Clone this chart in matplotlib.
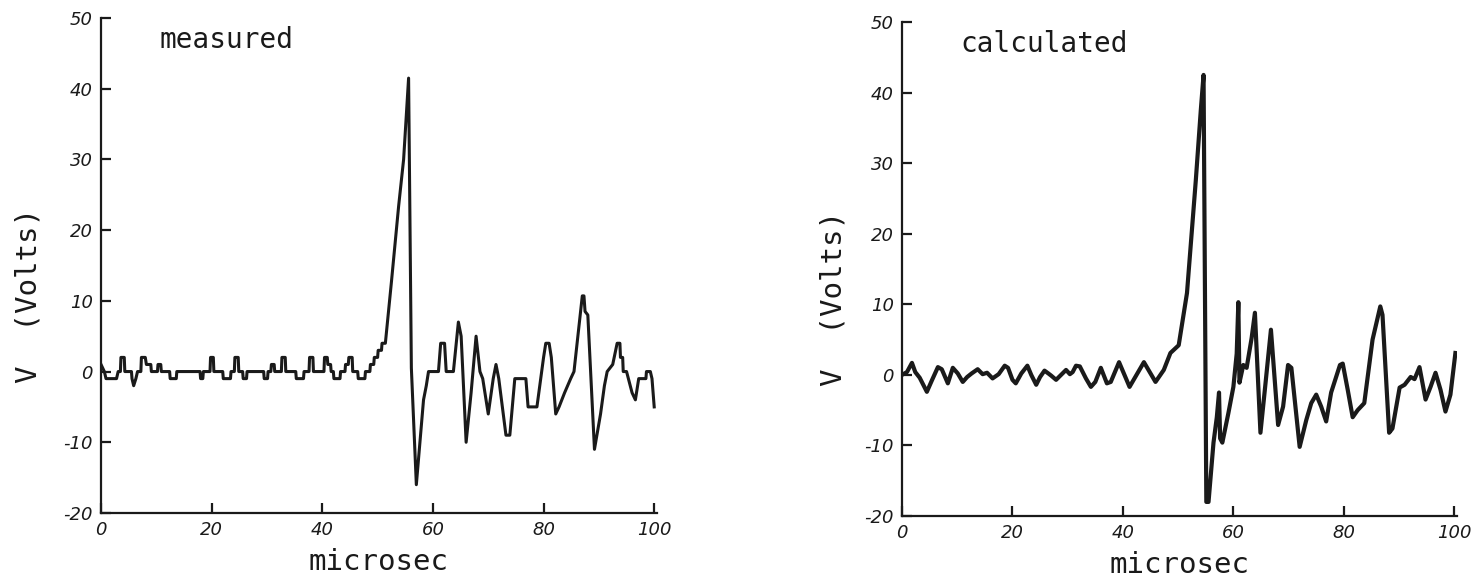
import matplotlib
matplotlib.use("Agg")
import matplotlib.pyplot as plt

plt.rcParams["axes.unicode_minus"] = False

# measured trace (stepped, digitiser output)
meas_t = [0, 0.6, 0.9, 2.8, 3.1, 3.5, 3.6, 4.2, 4.3, 5.5, 5.6, 5.9, 6.3, 6.6, 7.2, 7.3, 8.0, 8.2, 9.0, 9.1,
          10.2, 10.3, 10.8, 10.9, 12.4, 12.5, 13.6, 13.7, 17.9, 18.0, 18.4, 18.5, 19.7, 19.8, 20.3, 20.4,
          22.0, 22.1, 23.4, 23.5, 24.1, 24.2, 24.8, 24.9, 25.6, 25.7, 26.3, 26.4, 29.4, 29.5, 30.1, 30.2,
          30.7, 30.8, 31.3, 31.4, 32.6, 32.7, 33.3, 33.4, 35.2, 35.3, 36.6, 36.7, 37.6, 37.7, 38.3, 38.4,
          40.3, 40.4, 40.9, 41.0, 41.5, 41.6, 42.0, 42.1, 43.2, 43.3, 44.1, 44.2, 44.7, 44.8, 45.4, 45.5,
          46.4, 46.5, 47.7, 47.8, 48.6, 48.7, 49.3, 49.4, 50.0, 50.1, 50.7, 50.8, 51.4,
          52.5, 53.8, 54.7, 55.6, 56.1, 57.0, 58.3, 58.8, 59.2, 61.0, 61.4, 62.1, 62.4, 63.7, 64.6, 65.1,
          66.0, 66.9, 67.8, 68.5, 69.0, 70.0, 70.9, 71.4, 71.9, 73.2, 73.9, 74.8, 76.8, 77.2, 78.8, 80.0,
          80.4, 81.0, 81.4, 82.2, 82.8, 83.8, 84.9, 85.5, 87.0, 87.3, 87.5, 88.0, 89.2, 90.3, 91.0, 91.5,
          92.5, 93.3, 93.8, 93.9, 94.3, 94.4, 95.0, 96.0, 96.6, 97.2, 98.5, 98.6, 99.3, 99.6, 100.0]
meas_v = [1, 0, -1, -1, 0, 0, 2, 2, 0, 0, -1, -2, -1, 0, 0, 2, 2, 1, 1, 0,
          0, 1, 1, 0, 0, -1, -1, 0, 0, -1, -1, 0, 0, 2, 2, 0,
          0, -1, -1, 0, 0, 2, 2, 0, 0, -1, -1, 0, 0, -1, -1, 0,
          0, 1, 1, 0, 0, 2, 2, 0, 0, -1, -1, 0, 0, 2, 2, 0,
          0, 2, 2, 1, 1, 0, 0, -1, -1, 0, 0, 1, 1, 2, 2, 0,
          0, -1, -1, 0, 0, 1, 1, 2, 2, 3, 3, 4, 4,
          12.7, 23.4, 30, 41.5, 0.5, -16, -4, -2, 0, 0, 4, 4, 0, 0, 7, 5,
          -10, -3, 5, 0, -1, -6, -1, 1, -1, -9, -9, -1, -1, -5, -5, 2,
          4, 4, 2, -6, -5, -3, -1, 0, 10.7, 10.7, 8.5, 8, -11, -6, -2, 0,
          1, 4, 4, 2, 2, 0, 0, -3, -4, -1, -1, 0, 0, -1, -5]

# calculated trace
calc_t = [0, 0.9, 1.8, 2.4, 3.2, 4.5, 5.4, 6.5, 7.2, 8.3, 9.2, 10.1, 11.0, 11.8, 12.6, 13.7, 14.6, 15.4,
          16.4, 17.5, 18.6, 19.2, 20.0, 20.6, 21.6, 22.7, 23.4, 24.3, 25.0, 25.8, 26.5, 27.0, 27.9, 28.8,
          29.7, 30.4, 30.9, 31.5, 32.2, 33.3, 34.2, 35.0, 36.0, 37.1, 37.8, 39.3, 41.2, 43.8, 45.9, 47.4,
          48.6, 50.1, 51.6, 53.2, 54.1, 54.6, 55.1, 55.5, 56.4, 57.0, 57.4, 57.6, 58.0, 59.1, 60.0, 60.6,
          60.9, 61.1, 61.8, 62.4, 63.3, 63.9, 64.9, 65.7, 66.8, 68.1, 69.0, 69.9, 70.5, 72.0, 73.2, 74.1,
          75.0, 75.9, 76.8, 77.7, 79.3, 79.8, 80.7, 81.6, 82.5, 83.7, 85.2, 86.6, 87.0, 88.2, 88.8, 90.1,
          91.0, 92.1, 92.8, 93.7, 94.8, 95.7, 96.6, 97.5, 98.4, 99.3, 100.2]
calc_v = [0, 0.4, 1.7, 0.4, -0.4, -2.4, -0.8, 1.1, 0.8, -1.2, 1.0, 0.2, -1.0, -0.3, 0.2, 0.8, 0.1, 0.3,
          -0.5, 0.1, 1.3, 1.0, -0.7, -1.2, 0.2, 1.3, 0.0, -1.4, -0.3, 0.6, 0.2, -0.1, -0.7, 0.0,
          0.7, 0.1, 0.4, 1.3, 1.2, -0.5, -1.7, -1.0, 1.0, -1.2, -1.0, 1.8, -1.7, 1.8, -1.0, 0.7,
          3.1, 4.2, 11.6, 27.6, 37.5, 42.5, -18, -18, -9.6, -6, -2.5, -9, -9.6, -5.4, -1.7, 3,
          10.3, -1.1, 1.4, 1.0, 5.2, 8.8, -8.2, -2.1, 6.4, -7.1, -4.5, 1.4, 1.0, -10.2, -6.4, -4,
          -2.8, -4.5, -6.6, -2.5, 1.4, 1.6, -2.1, -6, -5, -4, 5, 9.7, 8.5, -8.2, -7.6, -1.8,
          -1.4, -0.3, -0.6, 1.1, -3.5, -1.7, 0.3, -2.1, -5.2, -2.8, 3.1]

x_ticks = [0, 20, 40, 60, 80, 100]
y_ticks = [-20, -10, 0, 10, 20, 30, 40, 50]

ink = "#1a1a1a"
fig = plt.figure(figsize=(14.77, 5.88), dpi=100)
ax1 = fig.add_axes([0.0684, 0.1276, 0.3764, 0.8418])
ax2 = fig.add_axes([0.6107, 0.1224, 0.3758, 0.8402])

panels = [(ax1, meas_t, meas_v, "measured", 2.2, -0.105),
          (ax2, calc_t, calc_v, "calculated", 3.0, -0.098)]
for ax, t, v, name, lw, ylab_x in panels:
    ax.plot(t, v, color=ink, linewidth=lw, solid_joinstyle="round")
    ax.set_xlim(0, 100.5)
    ax.set_ylim(-20, 50)
    ax.set_xticks(x_ticks)
    ax.set_yticks(y_ticks)
    ax.spines["top"].set_visible(False)
    ax.spines["right"].set_visible(False)
    for s in ("left", "bottom"):
        ax.spines[s].set_linewidth(1.6)
        ax.spines[s].set_color(ink)
    ax.tick_params(direction="in", length=7, width=1.6, color=ink, labelsize=13,
                   labelcolor=ink, pad=6)
    for lab in ax.get_xticklabels() + ax.get_yticklabels():
        lab.set_fontstyle("italic")
    ax.set_xlabel("microsec", fontsize=21, family="DejaVu Sans Mono", color=ink, labelpad=6)
    ax.set_ylabel("V  (Volts)", fontsize=21, family="DejaVu Sans Mono", color=ink)
    ax.yaxis.set_label_coords(ylab_x, 0.44)
    ax.text(0.105, 0.955, name, transform=ax.transAxes, fontsize=20,
            family="DejaVu Sans Mono", color=ink, va="center", ha="left")

fig.savefig("out.png", dpi=100)
